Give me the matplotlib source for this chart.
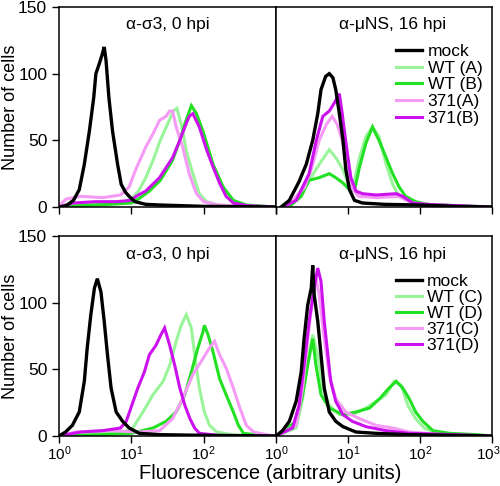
import matplotlib
matplotlib.use("Agg")
import matplotlib.pyplot as plt
import matplotlib.transforms as mtransforms
import numpy as np

plt.rcParams['font.family'] = ['Liberation Sans', 'DejaVu Sans']

# log10(fluorescence) positions and cell counts
# --- top left: anti-sigma3, 0 hpi, samples A/B
mock_tl_x = [0.0, 0.1, 0.2, 0.25, 0.28, 0.35, 0.42, 0.48, 0.51, 0.56, 0.6, 0.625, 0.65, 0.69, 0.74, 0.81, 0.86, 0.92, 0.97, 1.05, 1.2, 1.4, 1.7, 2.0, 2.5, 3.0]
mock_tl_y = [0, 1, 5, 10, 13, 32, 57, 82, 100, 108, 115, 120, 110, 82, 57, 32, 17, 11, 8, 4, 2, 1.5, 1, 0.5, 0.3, 0]
wtA_tl_x = [0.0, 0.3, 0.6, 0.9, 1.0, 1.1, 1.2, 1.3, 1.4, 1.5, 1.58, 1.63, 1.7, 1.76, 1.85, 1.94, 2.04, 2.2, 2.5, 3.0]
wtA_tl_y = [1, 3, 3, 4, 6, 12, 22, 35, 50, 62, 72, 74, 60, 42, 25, 10, 4, 1.5, 0.5, 0]
wtB_tl_x = [0.0, 0.3, 0.7, 1.0, 1.1, 1.25, 1.4, 1.57, 1.67, 1.75, 1.83, 1.9, 1.99, 2.13, 2.27, 2.41, 2.59, 3.0]
wtB_tl_y = [0, 1, 2, 3, 6, 12, 20, 35, 50, 64, 76, 70, 57, 32, 15, 5, 1.5, 0]
mutA_tl_x = [0.0, 0.1, 0.3, 0.6, 0.85, 0.97, 1.06, 1.2, 1.3, 1.39, 1.48, 1.53, 1.57, 1.62, 1.71, 1.8, 1.9, 2.0, 2.2, 2.6, 3.0]
mutA_tl_y = [1, 6, 8, 7, 9, 15, 28, 45, 55, 65, 68, 72, 72, 60, 45, 25, 10, 4, 1.5, 0.5, 0]
mutB_tl_x = [0.0, 0.2, 0.5, 0.8, 1.0, 1.065, 1.2, 1.39, 1.57, 1.67, 1.74, 1.8, 1.85, 1.94, 2.04, 2.13, 2.22, 2.31, 2.41, 2.6, 3.0]
mutB_tl_y = [0, 3, 4, 4, 5, 8, 12, 22, 37, 50, 60, 68, 70, 60, 43, 30, 18, 8, 3, 1, 0]

# --- top right: anti-muNS, 16 hpi, samples A/B
mock_tr_x = [0.07, 0.185, 0.32, 0.42, 0.51, 0.58, 0.625, 0.69, 0.74, 0.79, 0.83, 0.88, 0.93, 0.97, 1.02, 1.09, 1.2, 1.5, 2.0, 2.5, 3.0]
mock_tr_y = [0, 5, 19, 32, 50, 70, 88, 98, 100, 97, 88, 70, 50, 28, 13, 5, 3, 2, 1.5, 0.5, 0]
wtA_tr_x = [0.2, 0.46, 0.6, 0.74, 0.83, 0.93, 1.02, 1.09, 1.16, 1.25, 1.34, 1.43, 1.53, 1.62, 1.71, 1.9, 2.2, 3.0]
wtA_tr_y = [2, 20, 32, 43, 37, 28, 15, 20, 37, 53, 60, 53, 32, 17, 8, 3, 1.5, 0]
wtB_tr_x = [0.2, 0.35, 0.46, 0.6, 0.74, 0.83, 0.93, 1.04, 1.1, 1.16, 1.25, 1.34, 1.43, 1.53, 1.62, 1.71, 1.8, 1.94, 2.1, 2.5, 3.0]
wtB_tr_y = [1, 8, 20, 22, 25, 22, 18, 12, 15, 30, 48, 60, 50, 37, 25, 15, 8, 4, 2, 1, 0]
mutA_tr_x = [0.2, 0.4, 0.5, 0.6, 0.7, 0.78, 0.85, 0.92, 0.98, 1.04, 1.15, 1.4, 1.7, 1.9, 2.2, 3.0]
mutA_tr_y = [3, 15, 30, 50, 62, 68, 62, 50, 30, 15, 8, 7, 8, 3, 1.5, 0]
mutB_tr_x = [0.1, 0.28, 0.46, 0.56, 0.65, 0.74, 0.81, 0.88, 0.92, 0.95, 1.0, 1.04, 1.11, 1.2, 1.39, 1.67, 1.76, 1.9, 2.08, 2.5, 3.0]
mutB_tr_y = [0, 5, 25, 50, 68, 72, 78, 85, 70, 57, 37, 22, 12, 10, 9, 10, 8, 3, 2, 1, 0]

# --- bottom left: anti-sigma3, 0 hpi, samples C/D
mock_bl_x = [0.0, 0.09, 0.185, 0.28, 0.35, 0.39, 0.44, 0.49, 0.53, 0.58, 0.625, 0.67, 0.72, 0.79, 0.88, 0.97, 1.11, 1.4, 2.0, 3.0]
mock_bl_y = [0, 3, 8, 18, 41, 66, 91, 111, 118, 108, 86, 61, 36, 18, 11, 6, 2, 1, 0.5, 0]
wtC_bl_x = [0.0, 0.5, 0.9, 1.02, 1.16, 1.3, 1.44, 1.53, 1.62, 1.69, 1.76, 1.83, 1.875, 1.94, 2.01, 2.08, 2.18, 2.4, 3.0]
wtC_bl_y = [0, 2, 3, 6, 18, 31, 41, 53, 71, 83, 91, 81, 61, 36, 18, 8, 3, 1, 0]
wtD_bl_x = [0.0, 0.6, 1.0, 1.3, 1.48, 1.62, 1.74, 1.83, 1.92, 1.99, 2.01, 2.06, 2.13, 2.22, 2.31, 2.41, 2.48, 2.55, 2.8, 3.0]
wtD_bl_y = [0, 1, 2, 6, 11, 18, 31, 48, 66, 78, 83, 76, 63, 43, 31, 18, 8, 2, 0.5, 0]
mutC_bl_x = [0.0, 0.23, 0.7, 1.1, 1.39, 1.57, 1.71, 1.85, 1.99, 2.08, 2.15, 2.22, 2.31, 2.41, 2.5, 2.59, 2.69, 2.87, 3.0]
mutC_bl_y = [0, 3, 4, 3, 4, 13, 28, 46, 58, 66, 71, 61, 51, 36, 21, 8, 3, 1, 0]
mutD_bl_x = [0.0, 0.3, 0.6, 0.85, 0.93, 1.0, 1.09, 1.18, 1.25, 1.34, 1.41, 1.46, 1.53, 1.6, 1.67, 1.74, 1.81, 1.875, 1.94, 2.2, 3.0]
mutD_bl_y = [0, 3, 4, 6, 11, 22, 36, 48, 61, 68, 76, 81, 68, 53, 36, 23, 13, 6, 2, 0.5, 0]

# --- bottom right: anti-muNS, 16 hpi, samples C/D
mock_br_x = [0.0, 0.09, 0.185, 0.28, 0.35, 0.39, 0.44, 0.49, 0.51, 0.53, 0.58, 0.625, 0.67, 0.74, 0.83, 0.93, 1.11, 1.39, 1.85, 2.5, 3.0]
mock_br_y = [0, 4, 11, 26, 48, 73, 98, 111, 128, 106, 86, 61, 36, 18, 11, 7, 3, 2, 1, 0.5, 0]
wtC_br_x = [0.0, 0.28, 0.37, 0.44, 0.51, 0.58, 0.65, 0.74, 0.88, 1.06, 1.25, 1.39, 1.53, 1.64, 1.74, 1.83, 1.94, 2.06, 2.22, 2.6, 3.0]
wtC_br_y = [0, 6, 28, 56, 76, 61, 36, 23, 16, 16, 21, 26, 31, 41, 38, 23, 13, 6, 2, 0.5, 0]
wtD_br_x = [0.0, 0.28, 0.37, 0.44, 0.51, 0.555, 0.625, 0.74, 0.93, 1.11, 1.3, 1.44, 1.57, 1.67, 1.76, 1.85, 1.94, 2.04, 2.18, 2.41, 2.8, 3.0]
wtD_br_y = [0, 11, 31, 53, 73, 53, 31, 21, 16, 18, 21, 28, 36, 41, 36, 28, 18, 11, 4, 2, 1, 0]
mutC_br_x = [0.0, 0.28, 0.37, 0.44, 0.51, 0.555, 0.6, 0.67, 0.74, 0.83, 0.97, 1.16, 1.39, 1.62, 1.85, 2.3, 3.0]
mutC_br_y = [0, 8, 36, 73, 103, 118, 106, 73, 46, 28, 18, 13, 8, 6, 3, 1, 0]
mutD_br_x = [0.0, 0.23, 0.32, 0.39, 0.46, 0.53, 0.58, 0.625, 0.67, 0.72, 0.76, 0.83, 0.93, 1.06, 1.25, 1.53, 1.85, 2.5, 3.0]
mutD_br_y = [0, 6, 23, 53, 86, 111, 126, 116, 86, 61, 41, 26, 16, 11, 7, 4, 2, 1, 0]

titles = ["α-σ3, 0 hpi", "α-μNS, 16 hpi"]
labels_top = ["mock", "WT (A)", "WT (B)", "371(A)", "371(B)"]
labels_bot = ["mock", "WT (C)", "WT (D)", "371(C)", "371(D)"]
colors = ["black", "#9af59a", "#22e022", "#f59af5", "#cc11ee"]
widths = [2.4, 2.2, 2.2, 2.2, 2.2]

panels = {
    "tl": [(mock_tl_x, mock_tl_y), (wtA_tl_x, wtA_tl_y), (wtB_tl_x, wtB_tl_y), (mutA_tl_x, mutA_tl_y), (mutB_tl_x, mutB_tl_y)],
    "tr": [(mock_tr_x, mock_tr_y), (wtA_tr_x, wtA_tr_y), (wtB_tr_x, wtB_tr_y), (mutA_tr_x, mutA_tr_y), (mutB_tr_x, mutB_tr_y)],
    "bl": [(mock_bl_x, mock_bl_y), (wtC_bl_x, wtC_bl_y), (wtD_bl_x, wtD_bl_y), (mutC_bl_x, mutC_bl_y), (mutD_bl_x, mutD_bl_y)],
    "br": [(mock_br_x, mock_br_y), (wtC_br_x, wtC_br_y), (wtD_br_x, wtD_br_y), (mutC_br_x, mutC_br_y), (mutD_br_x, mutD_br_y)],
}

fig = plt.figure(figsize=(5.0, 4.86), dpi=100)
W, H = 500.0, 486.0
boxes = {
    "tl": [59 / W, (H - 207) / H, 217 / W, 200 / H],
    "tr": [276 / W, (H - 207) / H, 216 / W, 200 / H],
    "bl": [59 / W, (H - 436) / H, 217 / W, 200 / H],
    "br": [276 / W, (H - 436) / H, 216 / W, 200 / H],
}

for key, series in panels.items():
    ax = fig.add_axes(boxes[key])
    labs = labels_top if key[0] == "t" else labels_bot
    # coloured curves first, mock on top
    lines = {}
    for i in [1, 2, 3, 4, 0]:
        xs, ys = series[i]
        ln, = ax.plot(10 ** np.array(xs), ys, color=colors[i], lw=widths[i],
                      solid_joinstyle="miter", label=labs[i])
        lines[i] = ln
    ax.set_xscale("log")
    ax.set_xlim(1, 1000)
    ax.set_ylim(0, 150)
    ax.minorticks_off()
    ax.set_xticks([1, 10, 100, 1000])
    ax.tick_params(direction="out", length=5, width=1)
    ax.tick_params(axis="y", labelsize=12.5)
    ax.tick_params(axis="x", labelsize=11, pad=1.0)
    for sp in ax.spines.values():
        sp.set_linewidth(1.1)
    if key[0] == "t":
        ax.tick_params(axis="x", labelbottom=False)
    ty = 0.915 if key[0] == "t" else 0.905
    if key[1] == "l":
        ax.set_yticks([0, 50, 100, 150])
        ax.set_ylabel("Number of cells", fontsize=13)
        ax.yaxis.set_label_coords(-0.185, 0.5)
        ax.text(0.5, ty, titles[0], transform=ax.transAxes,
                ha="center", va="center", fontsize=12.5)
        if key[0] == "b":
            ax.set_xticks([1, 10, 100])
    else:
        ax.set_yticks([])
        ax.text(0.54, ty, titles[1], transform=ax.transAxes,
                ha="center", va="center", fontsize=12.5)
        ax.legend([lines[i] for i in range(5)], labs, loc="upper right",
                  bbox_to_anchor=(1.0, 0.865 if key[0] == "t" else 0.86),
                  frameon=False, fontsize=12.5, handlelength=1.5, handletextpad=0.3,
                  labelspacing=0.1 if key[0] == "t" else 0.05, borderaxespad=0.15)
        if key[0] == "b":
            # nudge the 10^3 label so it stays inside the figure
            last = ax.get_xticklabels()[-1]
            last.set_transform(last.get_transform() +
                               mtransforms.ScaledTranslation(-0.04, 0, fig.dpi_scale_trans))

fig.text(270 / W, (H - 473) / H, "Fluorescence (arbitrary units)", ha="center", va="center", fontsize=14.5)

fig.savefig("out.png", dpi=100)
